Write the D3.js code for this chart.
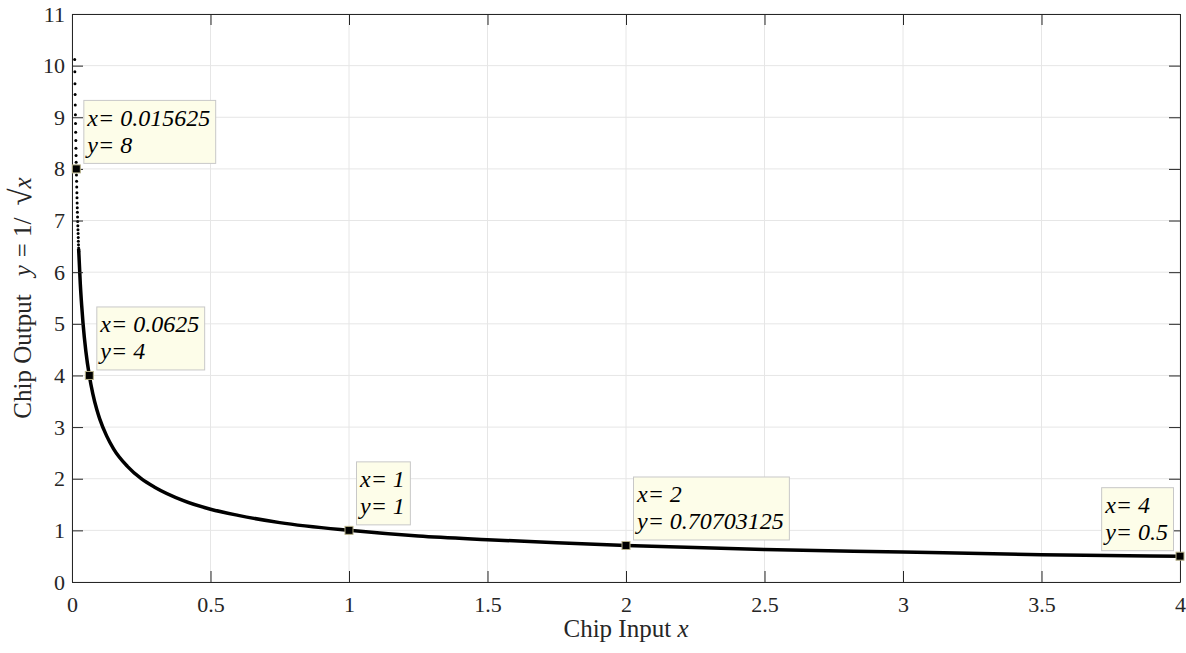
<!DOCTYPE html>
<html>
<head>
<meta charset="utf-8">
<script src="https://cdn.jsdelivr.net/npm/d3@7"></script>
<style>
body { margin: 0; background: #fff; }
svg { display: block; }
svg text { font-family: "Liberation Serif", "Times New Roman", serif; }
</style>
</head>
<body>
<div id="chart"></div>
<script>
// chip output, the first samples near x = 0 (visibly spaced dots)
const dotX = [0.0098, 0.0103, 0.0107, 0.0112, 0.0117, 0.0122, 0.0127, 0.0132, 0.0137, 0.0142,
              0.0146, 0.0151, 0.0156, 0.0161, 0.0166, 0.0171, 0.0176, 0.0181, 0.0186, 0.0190,
              0.0195, 0.0200, 0.0205, 0.0210, 0.0215, 0.0220, 0.0225, 0.0229, 0.0234, 0.0239, 0.0244];
const dotY = [10.12, 9.88, 9.65, 9.44, 9.24, 9.05, 8.88, 8.71, 8.55, 8.40,
              8.26, 8.13, 8.00, 7.88, 7.76, 7.65, 7.54, 7.44, 7.34, 7.25,
              7.16, 7.07, 6.98, 6.90, 6.82, 6.75, 6.67, 6.60, 6.53, 6.47, 6.40];

// chip output, rest of the curve (samples too dense to see apart)
const curveX = [0.024, 0.03, 0.035, 0.04, 0.05, 0.0625, 0.075, 0.09, 0.1, 0.125, 0.15, 0.2, 0.25,
                0.3, 0.4, 0.5, 0.6, 0.75, 1, 1.25, 1.5, 1.75, 2, 2.5, 3, 3.5, 4];
const curveY = [6.45, 5.77, 5.35, 5.0, 4.47, 4.0, 3.65, 3.33, 3.16, 2.83, 2.58, 2.24, 2.0,
                1.83, 1.58, 1.41, 1.29, 1.15, 1.0, 0.89, 0.82, 0.76, 0.707, 0.63, 0.58, 0.53, 0.5];

// data tips
const tipX = [0.015625, 0.0625, 1, 2, 4];
const tipY = [8, 4, 1, 0.70703125, 0.5];
const tipXText = ["0.015625", "0.0625", "1", "2", "4"];
const tipYText = ["8", "4", "1", "0.70703125", "0.5"];

const xTicks = [0, 0.5, 1, 1.5, 2, 2.5, 3, 3.5, 4];
const xTickLabels = ["0", "0.5", "1", "1.5", "2", "2.5", "3", "3.5", "4"];
const yTicks = [0, 1, 2, 3, 4, 5, 6, 7, 8, 9, 10, 11];
const yTickLabels = ["0", "1", "2", "3", "4", "5", "6", "7", "8", "9", "10", "11"];

const width = 1186, height = 653,
      margin = ({top: 14, right: 6, bottom: 71, left: 72});
const axisColor = "#262626";

let svg = d3.select("#chart")
    .append("svg")
    .attr("width", width)
    .attr("height", height);

let x = d3.scaleLinear()
    .domain([0, 4])
    .range([margin.left, width - margin.right]);

let y = d3.scaleLinear()
    .domain([0, 11])
    .range([height - margin.bottom, margin.top]);

// grid
svg.append("g")
    .selectAll("line")
    .data(xTicks)
    .join("line")
    .attr("x1", d => x(d)).attr("x2", d => x(d))
    .attr("y1", y(11)).attr("y2", y(0))
    .attr("stroke", "#e6e6e6");

svg.append("g")
    .selectAll("line")
    .data(yTicks)
    .join("line")
    .attr("x1", x(0)).attr("x2", x(4))
    .attr("y1", d => y(d)).attr("y2", d => y(d))
    .attr("stroke", "#e6e6e6");

// curve
const curvePts = curveX.map((v, i) => [v, curveY[i]]);
svg.append("path")
    .datum(curvePts)
    .attr("fill", "none")
    .attr("stroke", "#000")
    .attr("stroke-width", 3.5)
    .attr("d", d3.line().x(d => x(d[0])).y(d => y(d[1])).curve(d3.curveMonotoneX));

svg.append("g")
    .selectAll("circle")
    .data(dotX.map((v, i) => [v, dotY[i]]))
    .join("circle")
    .attr("cx", d => x(d[0]))
    .attr("cy", d => y(d[1]))
    .attr("r", 1.5)
    .attr("fill", "#000");

// axes
const styleAxis = g => {
    g.select(".domain").attr("stroke", axisColor);
    g.selectAll(".tick line").attr("stroke", axisColor);
    g.selectAll(".tick text").attr("fill", axisColor).attr("font-size", 22);
};

svg.append("g")
    .attr("transform", `translate(0,${y(0)})`)
    .call(d3.axisBottom(x).tickValues(xTicks).tickFormat((d, i) => xTickLabels[i])
        .tickSizeInner(-11).tickSizeOuter(0).tickPadding(14))
    .call(styleAxis);

svg.append("g")
    .attr("transform", `translate(0,${y(11)})`)
    .call(d3.axisTop(x).tickValues(xTicks).tickFormat("")
        .tickSizeInner(-11).tickSizeOuter(0))
    .call(styleAxis);

svg.append("g")
    .attr("transform", `translate(${x(0)},0)`)
    .call(d3.axisLeft(y).tickValues(yTicks).tickFormat((d, i) => yTickLabels[i])
        .tickSizeInner(-11).tickSizeOuter(0).tickPadding(7))
    .call(styleAxis);

svg.append("g")
    .attr("transform", `translate(${x(4)},0)`)
    .call(d3.axisRight(y).tickValues(yTicks).tickFormat("")
        .tickSizeInner(-11).tickSizeOuter(0))
    .call(styleAxis);

// axis labels
let xl = svg.append("text")
    .attr("x", (x(0) + x(4)) / 2)
    .attr("y", 637)
    .attr("text-anchor", "middle")
    .attr("font-size", 25)
    .attr("fill", axisColor)
    .text("Chip Input ");
xl.append("tspan").attr("font-style", "italic").text("x");

let yl = svg.append("text")
    .attr("transform", `translate(31,${(y(0) + y(11)) / 2}) rotate(-90)`)
    .attr("text-anchor", "middle")
    .attr("font-size", 25)
    .attr("fill", axisColor)
    .text("Chip Output");
yl.append("tspan").attr("dx", 18).attr("font-style", "italic").text("y");
yl.append("tspan").attr("dx", 8).text("= 1/");
yl.append("tspan").attr("dx", 12).attr("font-size", 31).text("√");
yl.append("tspan").attr("font-style", "italic").attr("font-size", 25).text("x");

// data tip markers and boxes
let tips = svg.append("g")
    .selectAll("g")
    .data(tipX.map((v, i) => ({x: v, y: tipY[i], xs: tipXText[i], ys: tipYText[i]})))
    .join("g");

tips.append("rect")
    .attr("x", d => x(d.x) - 4)
    .attr("y", d => y(d.y) - 4)
    .attr("width", 8)
    .attr("height", 8)
    .attr("fill", "#000")
    .attr("stroke", "#b8b28a")
    .attr("stroke-width", 1);

tips.each(function(d) {
    const g = d3.select(this);
    const box = g.append("rect")
        .attr("fill", "#fdfde9")
        .attr("stroke", "#c8c8c8")
        .attr("stroke-width", 1);
    const t1 = g.append("text").attr("font-size", 24).attr("font-style", "italic")
        .attr("fill", "#000").text("x= " + d.xs);
    const t2 = g.append("text").attr("font-size", 24).attr("font-style", "italic")
        .attr("fill", "#000").text("y= " + d.ys);
    const w = Math.max(t1.node().getComputedTextLength(), t2.node().getComputedTextLength()) + 9;
    const h = 63;
    let bx = x(d.x) + 7;
    if (bx + w > width - margin.right) bx = x(d.x) - 7 - w;
    const by = y(d.y) - 6 - h;
    box.attr("x", bx + 0.5).attr("y", by + 0.5).attr("width", w).attr("height", h);
    t1.attr("x", bx + 4).attr("y", by + 26);
    t2.attr("x", bx + 4).attr("y", by + 53);
});
</script>
</body>
</html>
